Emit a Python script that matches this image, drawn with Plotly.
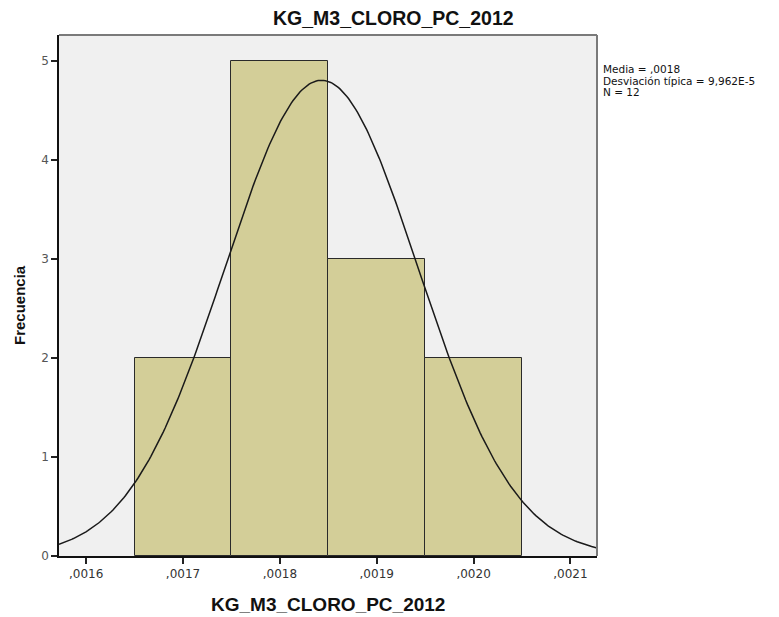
import numpy as np
import plotly.graph_objects as go

# Data
bin_centers = [0.0017, 0.0018, 0.0019, 0.0020]
counts = [2, 5, 3, 2]
bin_width = 0.0001
mean_val = 0.001843
sd_val = 9.962e-5
n_obs = 12

x_tickvals = [0.0016, 0.0017, 0.0018, 0.0019, 0.0020, 0.0021]
x_ticktext = [",0016", ",0017", ",0018", ",0019", ",0020", ",0021"]
y_tickvals = [0, 1, 2, 3, 4, 5]

title_text = "KG_M3_CLORO_PC_2012"
x_title = "KG_M3_CLORO_PC_2012"
y_title = "Frecuencia"
stats_lines = ["Media = ,0018", "Desviación típica = 9,962E-5", "N = 12"]

x_range = [0.001572, 0.0021274]
y_range = [0, 5.263]

# Normal curve from the reported statistics
xs = np.linspace(x_range[0], x_range[1], 300)
ys = n_obs * bin_width / (sd_val * np.sqrt(2 * np.pi)) * np.exp(-0.5 * ((xs - mean_val) / sd_val) ** 2)

fig = go.Figure()
fig.add_trace(go.Bar(
    x=bin_centers, y=counts, width=bin_width,
    marker=dict(color="#D3CE98", line=dict(color="#2a2a2a", width=1)),
    showlegend=False, hoverinfo="skip",
))
fig.add_trace(go.Scatter(
    x=xs, y=ys, mode="lines",
    line=dict(color="#1a1a1a", width=1.5),
    showlegend=False, hoverinfo="skip",
))

W, H = 771, 609
L, R, T, B = 51, 182, 27, 61
pw, ph = W - L - R, H - T - B

sans = "Liberation Sans, Arial, sans-serif"
wide = "DejaVu Sans, Verdana, sans-serif"

annotations = [
    dict(text="<b>" + title_text + "</b>", xref="paper", yref="paper",
         x=(385.5 - L) / pw, y=((T + ph) - 10) / ph, xanchor="center", yanchor="middle",
         showarrow=False, font=dict(family=sans, size=19.5, color="#111111")),
    dict(text="<b>" + x_title + "</b>", xref="paper", yref="paper",
         x=0.5, y=-(596 - (T + ph)) / ph, xanchor="center", yanchor="middle",
         showarrow=False, font=dict(family=sans, size=19, color="#111111")),
    dict(text="<b>" + y_title + "</b>", xref="paper", yref="paper", textangle=-90,
         x=(11 - L) / pw, y=((T + ph) - 297) / ph, xanchor="center", yanchor="middle",
         showarrow=False, font=dict(family=sans, size=15, color="#111111")),
]
for i, line in enumerate(stats_lines):
    annotations.append(dict(
        text=line, xref="paper", yref="paper",
        x=(593 - L) / pw, y=((T + ph) - (61 + 11.5 * i)) / ph,
        xanchor="left", yanchor="middle", showarrow=False,
        font=dict(family=wide, size=10.5, color="#111111")))

fig.update_layout(
    width=W, height=H,
    margin=dict(l=L, r=R, t=T, b=B, autoexpand=False),
    paper_bgcolor="white", plot_bgcolor="#F0F0F0",
    font=dict(family=sans, color="#222222", size=11),
    bargap=0,
    xaxis=dict(
        range=x_range, tickvals=x_tickvals, ticktext=x_ticktext,
        ticks="outside", ticklen=6, tickwidth=1.5, tickcolor="#222222",
        showgrid=False, zeroline=False, showline=True, linecolor="#111111", linewidth=1.5,
        tickfont=dict(size=12, family=wide, color="#333333"),
    ),
    yaxis=dict(
        range=y_range, tickvals=y_tickvals,
        ticks="outside", ticklen=6, tickwidth=1.5, tickcolor="#222222",
        showgrid=False, zeroline=False, showline=True, linecolor="#111111", linewidth=1.5,
        tickfont=dict(size=12, family=wide, color="#555555"),
    ),
    shapes=[
        dict(type="line", xref="paper", yref="paper", x0=0, x1=1, y0=1, y1=1,
             line=dict(color="#7a7a7a", width=2)),
        dict(type="line", xref="paper", yref="paper", x0=1, x1=1, y0=0, y1=1,
             line=dict(color="#7a7a7a", width=2)),
    ],
    annotations=annotations,
)

fig.write_html("out.html")
